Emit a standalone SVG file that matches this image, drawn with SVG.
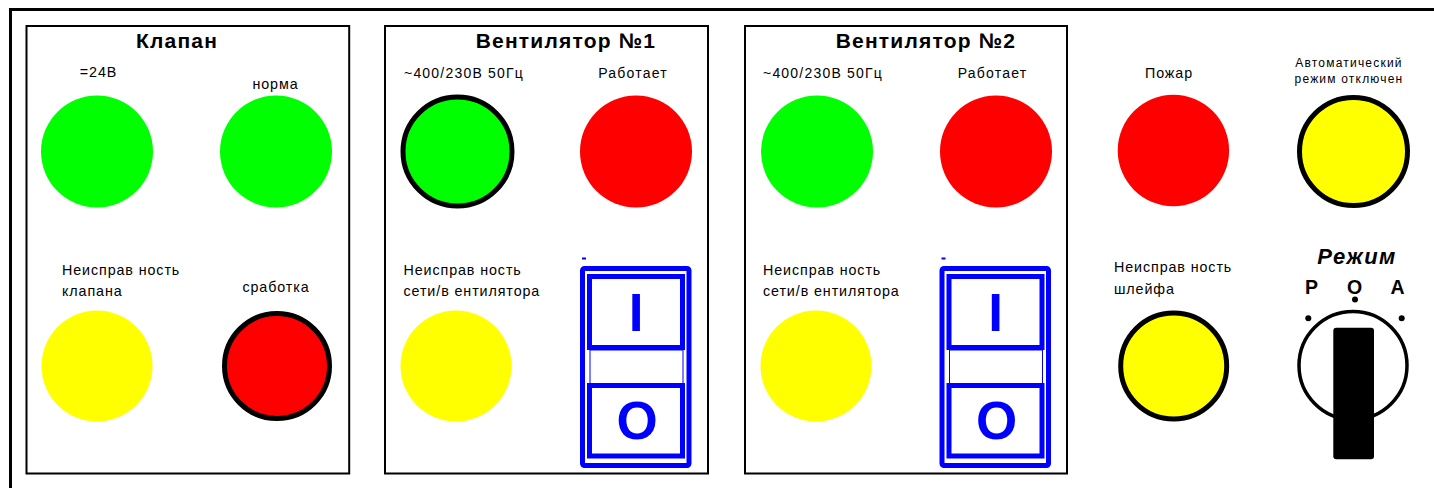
<svg xmlns="http://www.w3.org/2000/svg" width="1434" height="488" viewBox="0 0 1434 488">
<style>
.panel{fill:#fff;stroke:#000;stroke-width:2}
.title{font-family:"Liberation Sans",Arial,sans-serif;font-weight:bold;font-size:21px;letter-spacing:1.2px;fill:#000}
.lbl{font-family:"Liberation Sans",Arial,sans-serif;font-size:14px;letter-spacing:1.2px;fill:#000}
.lbl2{font-family:"Liberation Sans",Arial,sans-serif;font-size:14.3px;letter-spacing:0.9px;fill:#000}
.sml{font-family:"Liberation Sans",Arial,sans-serif;font-size:12px;letter-spacing:1.2px;fill:#000}
.g{fill:#00ff00}
.r{fill:#ff0000}
.y{fill:#ffff00}
.rim{stroke:#000;stroke-width:5}
.sw{fill:none;stroke:#0000ff;stroke-width:5}
.swthin{fill:none;stroke:#0000ff;stroke-width:1}
.swtxt{font-family:"Liberation Sans",Arial,sans-serif;font-weight:bold;font-size:53px;fill:#0000ff;text-anchor:middle}
.mode{font-family:"Liberation Sans",Arial,sans-serif;font-weight:bold;fill:#000;text-anchor:middle}
</style>
<rect x="0" y="0" width="1434" height="488" fill="#fff"/>
<rect x="10.5" y="9.5" width="1500" height="600" fill="none" stroke="#000" stroke-width="3"/>

<g id="panel-klapan">
<rect class="panel" x="26.5" y="26" width="322.7" height="447.5"/>
<text class="title" x="177" y="48" text-anchor="middle">Клапан</text>
<text class="lbl2" x="98.5" y="77" text-anchor="middle">=24В</text>
<circle class="g" cx="97" cy="151.5" r="56"/>
<text class="lbl2" x="275.5" y="89" text-anchor="middle">норма</text>
<circle class="g" cx="276" cy="151.5" r="56"/>
<text class="lbl2" x="62" y="275">Неисправ ность</text>
<text class="lbl2" x="62" y="296">клапана</text>
<circle class="y" cx="97" cy="366" r="55.5"/>
<text class="lbl2" x="276" y="292" text-anchor="middle">сработка</text>
<circle class="r rim" cx="277" cy="366" r="52.5"/>
</g>

<g id="panel-vent1">
<rect class="panel" x="385" y="26" width="323" height="447.5"/>
<text class="title" x="566" y="48" text-anchor="middle">Вентилятор №1</text>
<text class="lbl" x="404" y="78">~400/230В 50Гц</text>
<text class="lbl" x="633" y="78" text-anchor="middle">Работает</text>
<circle class="g rim" cx="457.5" cy="151.5" r="54.5"/>
<circle class="r" cx="636" cy="151.5" r="56"/>
<text class="lbl2" x="403.5" y="274.5">Неисправ ность</text>
<text class="lbl2" x="403.5" y="295.5">сети/в ентилятора</text>
<circle class="y" cx="456" cy="366" r="55.5"/>
<g id="switch1">
<line x1="582" y1="258.5" x2="586" y2="258.5" stroke="#0000ff" stroke-width="2"/>
<rect class="sw" x="582.5" y="268.5" width="106.5" height="197" rx="2"/>
<rect class="sw" x="589.5" y="276.5" width="93" height="71"/>
<rect class="swthin" x="590" y="350" width="93" height="35"/>
<rect class="sw" x="589.5" y="385.5" width="93" height="70.5"/>
<text class="swtxt" x="636" y="331">I</text>
<text class="swtxt" x="637" y="439">O</text>
</g>
</g>

<g id="panel-vent2">
<rect class="panel" x="745" y="26" width="322" height="447.5"/>
<text class="title" x="926" y="48" text-anchor="middle">Вентилятор №2</text>
<text class="lbl" x="763" y="78">~400/230В 50Гц</text>
<text class="lbl" x="992.5" y="78" text-anchor="middle">Работает</text>
<circle class="g" cx="817" cy="151.5" r="56"/>
<circle class="r" cx="996" cy="151.5" r="56"/>
<text class="lbl2" x="763" y="274.5">Неисправ ность</text>
<text class="lbl2" x="763" y="295.5">сети/в ентилятора</text>
<circle class="y" cx="816" cy="366" r="55.5"/>
<g id="switch2">
<line x1="941.5" y1="258.5" x2="945.5" y2="258.5" stroke="#0000ff" stroke-width="2"/>
<rect class="sw" x="942" y="268.5" width="106.5" height="197" rx="2"/>
<rect class="sw" x="949" y="276.5" width="93" height="71"/>
<rect class="swthin" x="949.5" y="350" width="93" height="35"/>
<rect class="sw" x="949" y="385.5" width="93" height="70.5"/>
<text class="swtxt" x="995.5" y="331">I</text>
<text class="swtxt" x="996.5" y="439">O</text>
</g>
</g>

<g id="fire">
<text class="lbl2" x="1169" y="77.5" text-anchor="middle" font-size="15" letter-spacing="0.4">Пожар</text>
<circle class="r" cx="1173.4" cy="150.5" r="55.7"/>
</g>

<g id="auto-off">
<text class="sml" x="1349" y="66.5" text-anchor="middle">Автоматический</text>
<text class="sml" x="1349" y="83" text-anchor="middle">режим отключен</text>
<circle class="y rim" cx="1353.5" cy="151.5" r="54"/>
</g>

<g id="loop-fault">
<text class="lbl2" x="1114" y="272">Неисправ ность</text>
<text class="lbl2" x="1114" y="293.5">шлейфа</text>
<circle class="y rim" cx="1173.7" cy="366" r="53"/>
</g>

<g id="mode-switch">
<text class="mode" x="1357" y="263.5" font-size="22" font-style="italic" letter-spacing="1.5">Режим</text>
<text class="mode" x="1311.5" y="293.5" font-size="19.5">Р</text>
<text class="mode" x="1354.5" y="293.5" font-size="19.5">О</text>
<text class="mode" x="1397.5" y="293.5" font-size="19.5">А</text>
<circle cx="1355" cy="299.5" r="3" fill="#000"/>
<circle cx="1308.3" cy="318.3" r="3" fill="#000"/>
<circle cx="1401.7" cy="318.3" r="3" fill="#000"/>
<circle cx="1353" cy="365.5" r="54" fill="#fff" stroke="#000" stroke-width="3.5"/>
<rect x="1333.3" y="327.7" width="40.7" height="131.6" rx="3" fill="#000"/>
</g>
</svg>
